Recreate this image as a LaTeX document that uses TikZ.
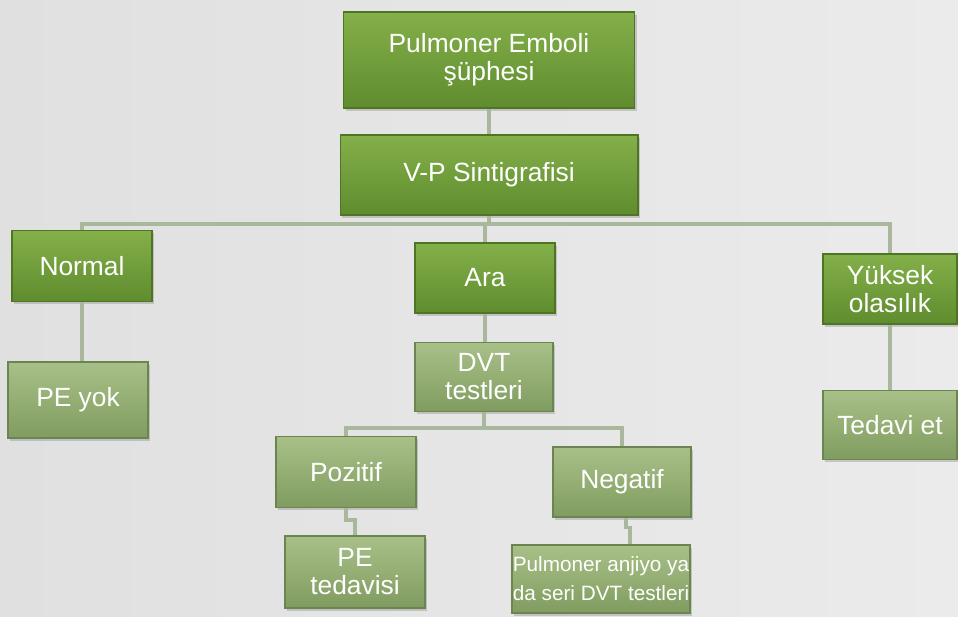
\documentclass[tikz,border=0pt]{standalone}
\usepackage{fontspec}
\setmainfont{Liberation Sans}
\usetikzlibrary{calc,shadows}
\definecolor{paper}{HTML}{EBEBEB}
\definecolor{paperleft}{HTML}{E0E0E0}
\definecolor{darktop}{HTML}{84B04A}
\definecolor{darkbot}{HTML}{5F8C2E}
\definecolor{darkrim}{HTML}{4E7424}
\definecolor{lighttop}{HTML}{A8C088}
\definecolor{lightbot}{HTML}{809C60}
\definecolor{lightrim}{HTML}{6A8550}
\definecolor{link}{HTML}{A9B79D}
\tikzset{
  box/.style={rectangle, inner sep=0pt, align=center, text=white,
    font=\fontsize{15}{16}\selectfont,
    drop shadow={opacity=0.35, shadow xshift=1.2pt, shadow yshift=-1.5pt}},
  darkbox/.style={box, top color=darktop, bottom color=darkbot, draw=darkrim, line width=0.6pt},
  lightbox/.style={box, top color=lighttop, bottom color=lightbot, draw=lightrim, line width=0.6pt},
  conn/.style={draw=link, line width=2.2pt}
}

\begin{document}
\begin{tikzpicture}[x=0.02cm, y=-0.02cm]
			%%%%% START %%%%%
			\useasboundingbox (0,0) rectangle (958,617);
			\shade[left color=paperleft, right color=paper] (0,0) rectangle (958,617);
			
			\node[darkbox, minimum width=5.82cm, minimum height=1.92cm] (suspect) at (489,60) {Pulmoner Emboli\\şüphesi};
			\node[darkbox, minimum width=5.96cm, minimum height=1.6cm] (scan) at (489,175) {V-P Sintigrafisi};
			
			\coordinate (bus) at (0,224);
			\node[darkbox, minimum width=2.8cm, minimum height=1.42cm] (normal) at (82,266) {Normal};
			\node[darkbox, minimum width=2.8cm, minimum height=1.4cm] (inter) at (485,278) {Ara};
			\node[darkbox, minimum width=2.68cm, minimum height=1.4cm] (high) at (890,289) {Yüksek\\olasılık};
			
			\node[lightbox, minimum width=2.8cm, minimum height=1.52cm] (nope) at (78,400) {PE yok};
			\node[lightbox, minimum width=2.76cm, minimum height=1.38cm] (dvt) at (484,377) {DVT\\testleri};
			\node[lightbox, minimum width=2.68cm, minimum height=1.38cm] (treat) at (890,425) {Tedavi et};
			
			\coordinate (subbus) at (0,428);
			\node[lightbox, minimum width=2.8cm, minimum height=1.42cm] (pos) at (346,472) {Pozitif};
			\node[lightbox, minimum width=2.76cm, minimum height=1.4cm] (neg) at (622,482) {Negatif};
			\node[lightbox, minimum width=2.8cm, minimum height=1.44cm] (ptreat) at (355,572) {PE\\tedavisi};
			\node[lightbox, minimum width=3.56cm, minimum height=1.36cm, font=\fontsize{11.8}{16.5}\selectfont] (angio) at (601,579) {Pulmoner anjiyo ya\\da seri DVT testleri};
			
			\draw[conn] (suspect.south) -- (suspect.south |- scan.north);
			\draw[conn] (scan.south) -- (scan.south |- bus);
			\draw[conn] (normal.north) |- (high.north |- bus) -- (high.north);
			\draw[conn] (inter.north) -- (inter.north |- bus);
			\draw[conn] (normal.south) -- (normal.south |- nope.north);
			\draw[conn] (inter.south) -- (inter.south |- dvt.north);
			\draw[conn] (high.south) -- (treat.north);
			
			\draw[conn] (dvt.south) -- (dvt.south |- subbus);
			\draw[conn] (pos.north) |- (neg.north |- subbus) -- (neg.north);
			\draw[conn] (pos.south) -- ++(0,12) -| (ptreat.north);
			\draw[conn] ($(neg.south)+(4,0)$) -- ++(0,10) -| ($(angio.north)+(29,0)$);
			
			%%%%% END %%%%%
		\end{tikzpicture}
\end{document}
